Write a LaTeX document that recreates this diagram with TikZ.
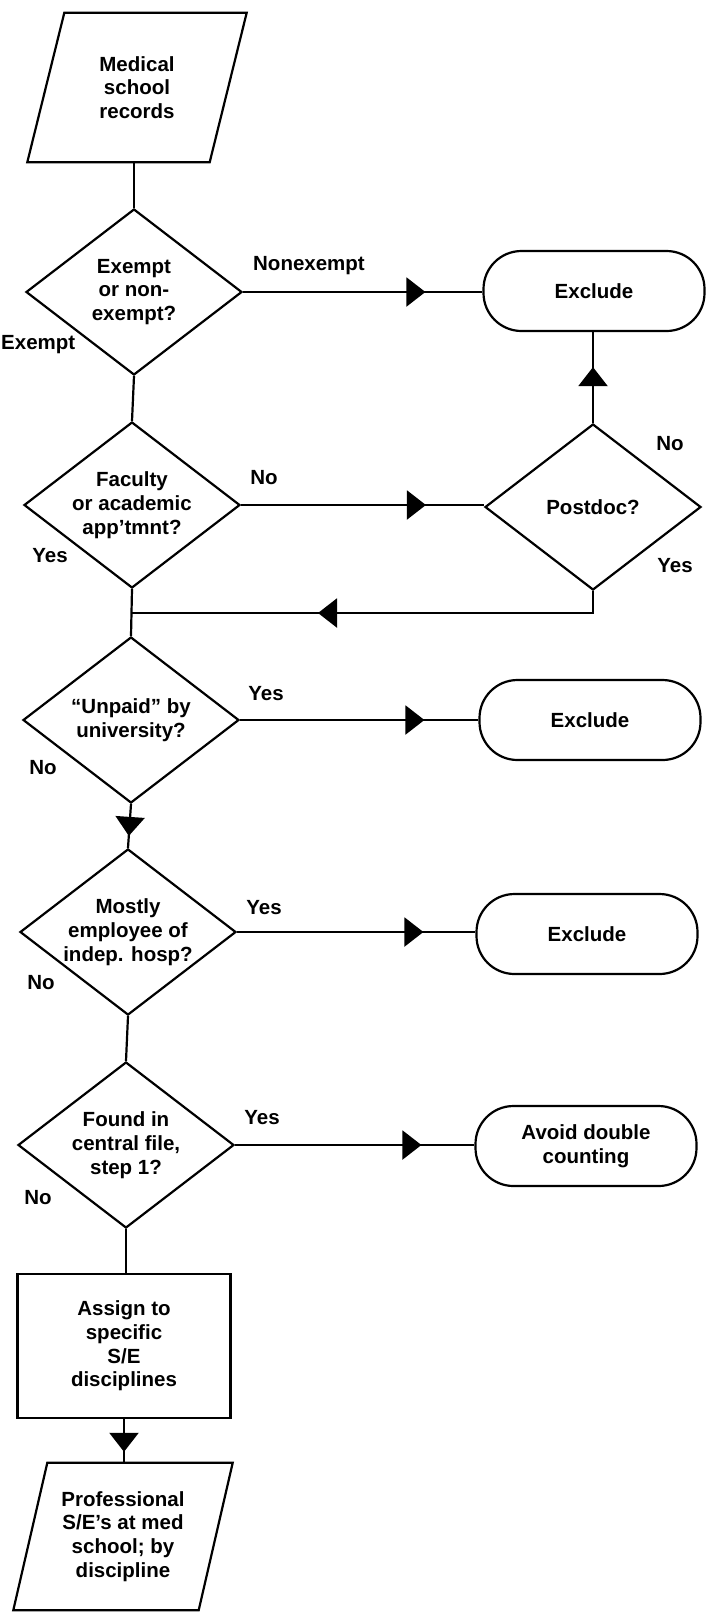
\documentclass[tikz,border=0pt]{standalone}
\usepackage{fontspec}
\setmainfont{Liberation Sans}
\usetikzlibrary{shapes.geometric,arrows.meta,decorations.markings,calc}
\begin{document}
\begin{tikzpicture}[x=1pt,y=-1pt,
  every node/.style={font=\bfseries\fontsize{20.5}{23.7}\selectfont, align=center, inner sep=0pt},
  lw/.style={line width=2.2pt},
  dia/.style={diamond, draw, lw, minimum width=216pt, minimum height=166pt, aspect=1.3},
  stad/.style={rectangle, draw, lw, rounded corners=38pt, minimum width=221pt, minimum height=80pt},
  procbox/.style={rectangle, draw, lw, minimum width=213pt, minimum height=144pt},
  iobox/.style={rectangle, minimum width=#1, minimum height=148pt},
  conn/.style={lw},
  midarr/.style={postaction={decorate}, decoration={markings, mark=at position #1 with {\arrow{Triangle[length=19pt,width=29pt]}}}},
]
\useasboundingbox (0,0) rectangle (708,1615);

% nodes
\node[iobox=182pt, minimum height=149pt] (rec1) at (137,87.5) {Medical\\school\\records};
\draw[lw] ([xshift=18.5pt]rec1.north west) -- ([xshift=18.5pt]rec1.north east) -- ([xshift=-18.5pt]rec1.south east) -- ([xshift=-18.5pt]rec1.south west) -- cycle;

\node[dia] (d1) at (134,292) {Exempt\\or non-\\exempt?};
\node[stad] (ex1) at (594,291) {Exclude};
\node[dia] (d2) at (132,505) {Faculty\\or academic\\app’tmnt?};
\node[dia] (pd) at (593,507) {Postdoc?};
\node[dia] (d3) at (131,720) {“Unpaid” by\\university?};
\node[stad] (ex2) at (590,720) {Exclude};
\node[dia] (d4) at (128,932) {Mostly\\employee of\\indep. hosp?};
\node[stad] (ex3) at (587,934) {Exclude};
\node[dia] (d5) at (126,1145) {Found in\\central file,\\step 1?};
\node[stad] (av) at (586,1146) {Avoid double\\counting};
\node[procbox] (box) at (124,1346) {Assign to\\specific\\S/E\\disciplines};
\node[iobox=185pt, minimum height=147pt] (rec2) at (123,1536.5) {Professional\\S/E’s at med\\school; by\\discipline};
\draw[lw] ([xshift=17pt]rec2.north west) -- ([xshift=17pt]rec2.north east) -- ([xshift=-17pt]rec2.south east) -- ([xshift=-17pt]rec2.south west) -- cycle;

\coordinate (j) at (131,613);

% connectors
\draw[conn] (rec1.south -| d1.north) -- (d1.north);
\draw[conn, midarr=-57pt] (d1.east) -- (d1.east -| ex1.west);
\draw[conn] (d1.south) -- (d2.north);
\draw[conn, midarr=-58pt] (d2.east) -- (d2.east -| pd.west);
\draw[conn, midarr=-35pt] (pd.north) -- (pd.north |- ex1.south);
\draw[conn, midarr=-187pt] (pd.south) -- (pd.south |- j) -- (j);
\draw[conn] (d2.south) -- (d3.north);
\draw[conn, midarr=-54pt] (d3.east) -- (d3.east -| ex2.west);
\draw[conn, midarr=-12pt] (d3.south) -- (d4.north);
\draw[conn, midarr=-52pt] (d4.east) -- (d4.east -| ex3.west);
\draw[conn] (d4.south) -- (d5.north);
\draw[conn, midarr=-53pt] (d5.east) -- (d5.east -| av.west);
\draw[conn] (d5.south) -- (d5.south |- box.north);
\draw[conn, midarr=-11pt] (box.south) -- (box.south |- rec2.north);

% labels
\node (lnonex) at (309,266) {Nonexempt};
\node[anchor=west] (lex) at (1,345) {Exempt};
\node (lno2) at (264,478) {No};
\node (lyes2) at (50,556) {Yes};
\node (lnopd) at (670,444) {No};
\node (lyespd) at (675,566) {Yes};
\node (lyes3) at (266,694) {Yes};
\node (lno3) at (43,768) {No};
\node (lyes4) at (264,908) {Yes};
\node (lno4) at (41,983) {No};
\node (lyes5) at (262,1118) {Yes};
\node (lno5) at (38,1198) {No};
\end{tikzpicture}
\end{document}
